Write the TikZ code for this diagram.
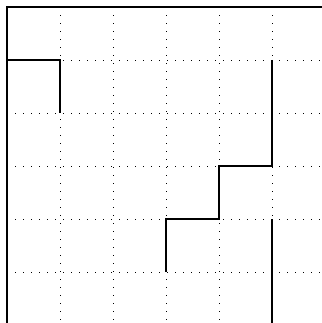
\documentclass[tikz,border=0pt]{standalone}
\begin{document}
\begin{tikzpicture}[x=1cm,y=-1cm,
    gridline/.style={line width=0.5pt,dash pattern=on 0.5pt off 3.8pt},
    pathline/.style={line width=1pt}]
  \clip (-0.132,-0.132) rectangle (5.943,5.962);
  % dotted lattice
  \foreach \i in {1,...,5}{
    \draw[gridline] (\i,0) -- (\i,6.2);
    \draw[gridline] (0,\i) -- (6.2,\i);
  }
  % frame
  \draw[pathline] (0,6.2) -- (0,0) -- (6.2,0);
  % lattice path pieces
  \draw[pathline] (0,1) -- (1,1) -- (1,2);
  \draw[pathline] (5,1) -- (5,3) -- (4,3) -- (4,4) -- (3,4) -- (3,5);
  \draw[pathline] (5,4) -- (5,6.2);
\end{tikzpicture}
\end{document}
